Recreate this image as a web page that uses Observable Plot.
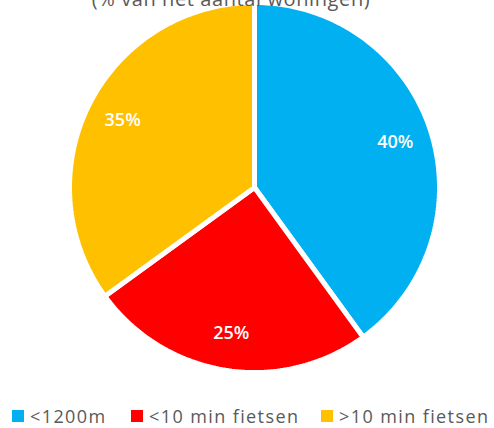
<!DOCTYPE html>
<html>
<head>
<meta charset="utf-8">
<script src="https://cdn.jsdelivr.net/npm/d3@7"></script>
<script src="https://cdn.jsdelivr.net/npm/@observablehq/plot@0.6"></script>
<style>
  html, body { margin: 0; padding: 0; background: #fff; overflow: hidden; }
  body { width: 494px; height: 428px; position: relative; font-family: "Open Sans", sans-serif; }
  #chart { position: absolute; top: 0; left: 0; }
  #chart svg { background: transparent !important; }
  #title { position: absolute; top: -12px; left: -16px; width: 494px; text-align: center; font-size: 20px; letter-spacing: 0.6px; color: #595959; line-height: 22px; white-space: nowrap; z-index: 2; }
  #legend { position: absolute; top: 405px; left: 0; width: 494px; height: 22px; }
  #legend .sw { position: absolute; top: 0; display: inline-flex; align-items: center; font-size: 18px; letter-spacing: 1.4px; color: #595959; white-space: nowrap; line-height: 22px; }
  #legend .sq { display: inline-block; width: 12px; height: 12px; margin-right: 6px; }
</style>
</head>
<body>
<div id="chart"></div>
<div id="title">(% van het aantal woningen)</div>
<div id="legend"></div>
<script>
const categories = ["<1200m", "<10 min fietsen", ">10 min fietsen"];
const values = [40, 25, 35];
const labels = ["40%", "25%", "35%"];
const colors = ["#00B0F0", "#FF0000", "#FFC000"];

const total = d3.sum(values);
let acc = 0;
const slices = categories.map((c, i) => {
  const a0 = acc / total * 2 * Math.PI;
  acc += values[i];
  const a1 = acc / total * 2 * Math.PI;
  return {category: c, value: values[i], label: labels[i], a0, a1};
});

function slicePolygon(s) {
  const ring = [[0, 0]];
  const n = Math.max(2, Math.ceil((s.a1 - s.a0) / (Math.PI / 180)));
  for (let k = 0; k <= n; k++) {
    const a = s.a0 + (s.a1 - s.a0) * k / n;
    ring.push([Math.sin(a), -Math.cos(a)]);
  }
  ring.push([0, 0]);
  return {type: "Feature", properties: s, geometry: {type: "Polygon", coordinates: [ring]}};
}
const features = slices.map(slicePolygon);
const circle = {type: "Polygon", coordinates: [d3.range(0, 361, 2).map(d => [Math.sin(d * Math.PI / 180), -Math.cos(d * Math.PI / 180)])]};

const labelR = 0.8;
const labelData = slices.map(s => {
  const m = (s.a0 + s.a1) / 2;
  return {label: s.label, x: labelR * Math.sin(m), y: -labelR * Math.cos(m)};
});

const color = d3.scaleOrdinal(categories, colors);

const plot = Plot.plot({
  width: 494,
  height: 390,
  marginLeft: 69,
  marginRight: 55,
  marginTop: 2,
  marginBottom: 18,
  projection: {type: "identity", domain: circle},
  marks: [
    Plot.geo(features, {fill: d => color(d.properties.category), stroke: "white", strokeWidth: 5, strokeLinejoin: "miter"}),
    Plot.text(labelData, {x: "x", y: "y", text: "label", fill: "white", fontSize: 18, fontWeight: 600, fontFamily: "Open Sans"})
  ]
});
document.getElementById("chart").appendChild(plot);

const legendLeft = [12, 131, 321];
const legend = d3.select("#legend");
categories.forEach((c, i) => {
  const item = legend.append("span").attr("class", "sw").style("left", legendLeft[i] + "px");
  item.append("span").attr("class", "sq").style("background", colors[i]);
  item.append("span").text(c);
});
</script>
</body>
</html>
